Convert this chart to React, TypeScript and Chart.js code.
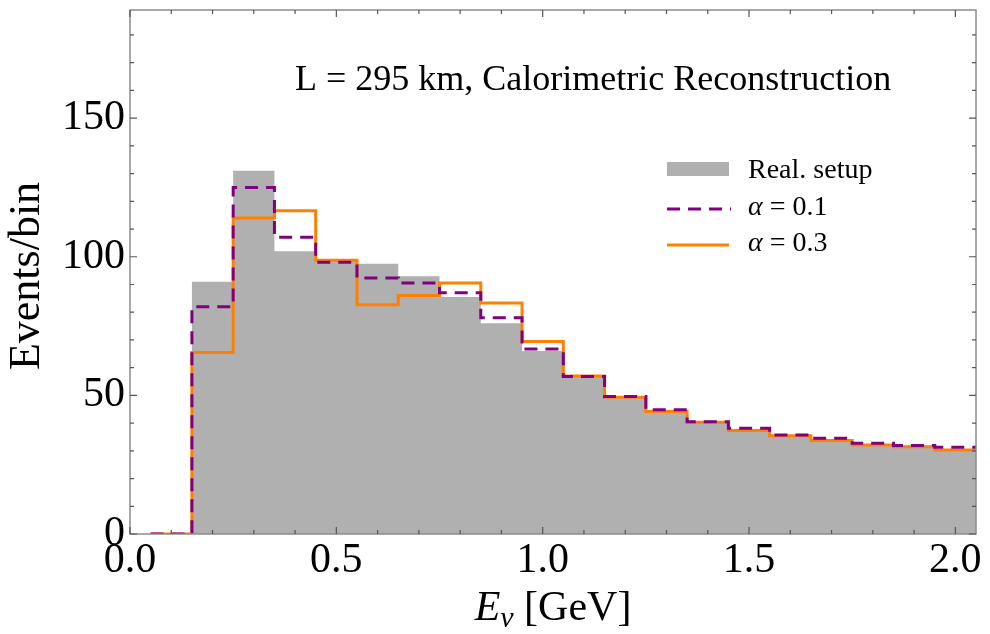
import React, { useEffect, useRef } from 'react';
import { Chart, registerables } from 'chart.js';

Chart.register(...registerables);

// ---- data ----
const binEdges = [0.05, 0.15, 0.25, 0.35, 0.45, 0.55, 0.65, 0.75, 0.85, 0.95, 1.05, 1.15, 1.25, 1.35, 1.45, 1.55, 1.65, 1.75, 1.85, 1.95, 2.05];
const realSetup = [0, 91, 131, 102, 98.5, 97.5, 93, 85.5, 76, 66, 57, 49.6, 44.2, 40.5, 37.5, 35.7, 33.9, 32.5, 31.8, 30.7];
const alpha01 = [0, 82, 125, 107, 98, 92.3, 90.5, 87, 78, 66.7, 56.8, 49.6, 44.8, 40.5, 38.1, 35.7, 34.5, 32.7, 31.9, 31.3];
const alpha03 = [0, 65.5, 114, 116.6, 98.7, 82.7, 86, 90.5, 83.3, 69.4, 57, 49.3, 44.2, 40.3, 37.3, 35.4, 33.7, 32.1, 31.5, 30.3];
const seriesLabels = ['Real. setup', 'α = 0.1', 'α = 0.3'];
const xTicks = [0, 0.5, 1.0, 1.5, 2.0];
const yTicks = [0, 50, 100, 150];
const xRange = [0, 2.05];
const yRange = [0, 189];
const titleText = 'L = 295 km, Calorimetric Reconstruction';
const yTitle = 'Events/bin';

const SERIF = "'Liberation Serif', 'Times New Roman', Times, serif";
const GRAY = '#b0b0b0';
const PURPLE = '#800080';
const ORANGE = '#ff8000';

function toSteps(values: number[]) {
  const pts = values.map((v, i) => ({ x: binEdges[i], y: v }));
  pts.push({ x: binEdges[binEdges.length - 1], y: values[values.length - 1] });
  return pts;
}

function drawMixed(ctx: CanvasRenderingContext2D, label: string, x: number, y: number, size: number) {
  ctx.textBaseline = 'alphabetic';
  ctx.textAlign = 'left';
  if (label.startsWith('α')) {
    ctx.font = `italic ${size}px ${SERIF}`;
    ctx.fillText('α', x, y);
    const w = ctx.measureText('α').width;
    ctx.font = `${size}px ${SERIF}`;
    ctx.fillText(label.slice(1), x + w, y);
  } else {
    ctx.font = `${size}px ${SERIF}`;
    ctx.fillText(label, x, y);
  }
}

const decorPlugin = {
  id: 'decor',
  afterDatasetsDraw(chart: any) {
    const ctx: CanvasRenderingContext2D = chart.ctx;
    const { left, right, top, bottom } = chart.chartArea;
    const xs = chart.scales.x;
    const ys = chart.scales.y;
    ctx.save();
    // frame
    ctx.strokeStyle = '#8c8c8c';
    ctx.lineWidth = 1.5;
    ctx.strokeRect(left, top, right - left, bottom - top);
    // ticks (inward, all four sides)
    ctx.strokeStyle = '#555';
    ctx.lineWidth = 1.2;
    for (let i = 0; i * 0.1 <= xRange[1] + 1e-9; i++) {
      const v = i * 0.1;
      const px = xs.getPixelForValue(v);
      const len = i % 5 === 0 ? 7 : 4;
      ctx.beginPath();
      ctx.moveTo(px, bottom); ctx.lineTo(px, bottom - len);
      ctx.moveTo(px, top); ctx.lineTo(px, top + len);
      ctx.stroke();
    }
    for (let i = 0; i * 10 <= yRange[1]; i++) {
      const py = ys.getPixelForValue(i * 10);
      const len = i % 5 === 0 ? 7 : 4;
      ctx.beginPath();
      ctx.moveTo(left, py); ctx.lineTo(left + len, py);
      ctx.moveTo(right, py); ctx.lineTo(right - len, py);
      ctx.stroke();
    }
    ctx.fillStyle = '#000';
    // title inside plot
    ctx.font = `36px ${SERIF}`;
    ctx.textAlign = 'left';
    ctx.textBaseline = 'alphabetic';
    ctx.fillText(titleText, left + 165, top + 80);
    // legend
    const lx0 = left + 537, lx1 = left + 599, tx = left + 618;
    ctx.fillStyle = GRAY;
    ctx.fillRect(lx0, top + 152, lx1 - lx0, 14);
    ctx.lineWidth = 3;
    ctx.strokeStyle = PURPLE;
    ctx.setLineDash([13, 8]);
    ctx.beginPath(); ctx.moveTo(lx0, top + 199); ctx.lineTo(lx1 + 2, top + 199); ctx.stroke();
    ctx.setLineDash([]);
    ctx.strokeStyle = ORANGE;
    ctx.beginPath(); ctx.moveTo(lx0, top + 235); ctx.lineTo(lx1, top + 235); ctx.stroke();
    ctx.fillStyle = '#000';
    drawMixed(ctx, seriesLabels[0], tx, top + 168, 28);
    drawMixed(ctx, seriesLabels[1], tx, top + 205, 28);
    drawMixed(ctx, seriesLabels[2], tx, top + 241, 28);
    // x axis title: E_ν [GeV]
    const big = 42, small = 30;
    ctx.font = `italic ${big}px ${SERIF}`;
    const wE = ctx.measureText('E').width;
    ctx.font = `italic ${small}px ${SERIF}`;
    const wNu = ctx.measureText('ν').width;
    ctx.font = `${big}px ${SERIF}`;
    const wRest = ctx.measureText(' [GeV]').width;
    const total = wE + wNu + wRest;
    let x = (left + right) / 2 - total / 2;
    const base = bottom + 86;
    ctx.textAlign = 'left';
    ctx.textBaseline = 'alphabetic';
    ctx.font = `italic ${big}px ${SERIF}`;
    ctx.fillText('E', x, base);
    x += wE;
    ctx.font = `italic ${small}px ${SERIF}`;
    ctx.fillText('ν', x, base + 7);
    x += wNu;
    ctx.font = `${big}px ${SERIF}`;
    ctx.fillText(' [GeV]', x, base);
    // y axis title
    ctx.save();
    ctx.translate(27, 276);
    ctx.rotate(-Math.PI / 2);
    ctx.font = `44px ${SERIF}`;
    ctx.textAlign = 'center';
    ctx.textBaseline = 'middle';
    ctx.fillText(yTitle, 0, 0);
    ctx.restore();
    ctx.restore();
  },
};

export default function App() {
  const canvasRef = useRef<HTMLCanvasElement>(null);
  useEffect(() => {
    if (!canvasRef.current) return;
    const chart = new Chart(canvasRef.current, {
      type: 'line',
      data: {
        datasets: [
          {
            label: seriesLabels[0],
            data: toSteps(realSetup),
            stepped: 'before',
            fill: 'origin',
            backgroundColor: GRAY,
            borderColor: GRAY,
            borderWidth: 0,
            pointRadius: 0,
            order: 3,
          },
          {
            label: seriesLabels[1],
            data: toSteps(alpha01),
            stepped: 'before',
            fill: false,
            borderColor: PURPLE,
            borderWidth: 3,
            borderDash: [13, 8],
            pointRadius: 0,
            order: 1,
          },
          {
            label: seriesLabels[2],
            data: toSteps(alpha03),
            stepped: 'before',
            fill: false,
            borderColor: ORANGE,
            borderWidth: 3,
            pointRadius: 0,
            order: 2,
          },
        ],
      },
      options: {
        animation: false,
        responsive: true,
        maintainAspectRatio: false,
        layout: { padding: { left: 0, right: 14, top: 10, bottom: 0 } },
        plugins: { legend: { display: false }, tooltip: { enabled: false }, title: { display: false } },
        scales: {
          x: {
            type: 'linear',
            min: xRange[0],
            max: xRange[1],
            grid: { display: false, drawTicks: false },
            border: { display: false },
            afterBuildTicks: (s: any) => { s.ticks = xTicks.map((v) => ({ value: v })); },
            afterFit: (s: any) => { s.height = 100; s.paddingLeft = 0; s.paddingRight = 0; },
            ticks: {
              color: '#000',
              font: { family: SERIF, size: 42 },
              padding: 2,
              maxRotation: 0,
              autoSkip: false,
              callback: (v: any) => Number(v).toFixed(1),
            },
          },
          y: {
            type: 'linear',
            min: yRange[0],
            max: yRange[1],
            grid: { display: false, drawTicks: false },
            border: { display: false },
            afterBuildTicks: (s: any) => { s.ticks = yTicks.map((v) => ({ value: v })); },
            afterFit: (s: any) => { s.width = 130; s.paddingTop = 0; s.paddingBottom = 0; },
            ticks: {
              color: '#000',
              font: { family: SERIF, size: 42 },
              padding: 5,
              autoSkip: false,
              callback: (v: any) => String(v),
            },
          },
        },
      },
      plugins: [decorPlugin],
    } as any);
    return () => chart.destroy();
  }, []);
  return (
    <div style={{ position: 'absolute', left: 0, top: 0, width: 990, height: 634, background: '#fff' }}>
      <canvas ref={canvasRef} />
    </div>
  );
}
